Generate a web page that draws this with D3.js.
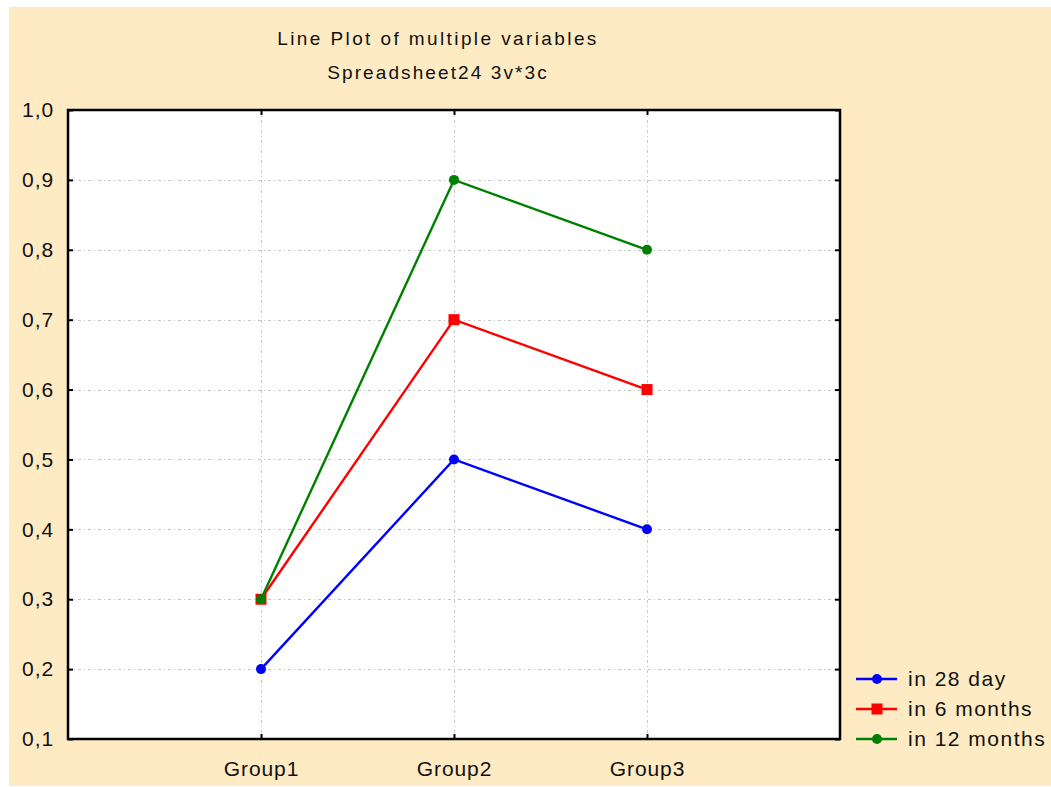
<!DOCTYPE html>
<html>
<head>
<meta charset="utf-8">
<script src="https://cdn.jsdelivr.net/npm/d3@7"></script>
<style>
  html, body { margin: 0; padding: 0; background: #ffffff; }
  svg { display: block; }
  text { font-family: "Liberation Sans", Arial, sans-serif; fill: #111; }
</style>
</head>
<body>
<svg id="chart" width="1051" height="787"></svg>
<script>
// Categories, series and tick labels
const groups = ["Group1", "Group2", "Group3"];
const seriesNames = ["in 28 day", "in 6 months", "in 12 months"];
const in28Day = [0.2, 0.5, 0.4];
const in6Months = [0.3, 0.7, 0.6];
const in12Months = [0.3, 0.9, 0.8];
const yTicks = [0.1, 0.2, 0.3, 0.4, 0.5, 0.6, 0.7, 0.8, 0.9, 1.0];
const titleLines = ["Line Plot of multiple variables", "Spreadsheet24 3v*3c"];

const series = [
  { name: seriesNames[0], values: in28Day, color: "#0000ff", marker: "circle" },
  { name: seriesNames[1], values: in6Months, color: "#ff0000", marker: "square" },
  { name: seriesNames[2], values: in12Months, color: "#008000", marker: "circle" }
];

const svg = d3.select("#chart");
const W = 1051, H = 787;
const plot = { left: 68, right: 840, top: 110, bottom: 739 };

// Panel background
svg.append("rect").attr("x", 9).attr("y", 7).attr("width", W - 9).attr("height", H - 8)
  .attr("fill", "#feebc4");

// Scales
const x = d3.scalePoint().domain(groups).range([plot.left, plot.right]).padding(1);
const y = d3.scaleLinear().domain([0.1, 1.0]).range([plot.bottom, plot.top]);

// Plot area
svg.append("rect")
  .attr("x", plot.left).attr("y", plot.top)
  .attr("width", plot.right - plot.left).attr("height", plot.bottom - plot.top)
  .attr("fill", "#ffffff");

// Grid lines (dash-dot)
const grid = svg.append("g").attr("stroke", "#c4c4c4").attr("stroke-width", 1)
  .attr("stroke-dasharray", "3,3,1,3");
grid.selectAll("line.h").data(yTicks.filter(t => t > 0.1 && t < 1.0)).join("line")
  .attr("x1", plot.left).attr("x2", plot.right)
  .attr("y1", d => Math.round(y(d)) + 0.5).attr("y2", d => Math.round(y(d)) + 0.5);
grid.selectAll("line.v").data(groups).join("line")
  .attr("y1", plot.top).attr("y2", plot.bottom)
  .attr("x1", d => Math.round(x(d)) + 0.5).attr("x2", d => Math.round(x(d)) + 0.5);

// Axes: ticks point inward on all four sides
const fmt = d => d3.format(".1f")(d).replace(".", ",");
const axisLeft = d3.axisLeft(y).tickValues(yTicks).tickSize(-5).tickPadding(14).tickFormat(fmt);
const axisRight = d3.axisRight(y).tickValues(yTicks).tickSize(-5).tickFormat("");
const axisBottom = d3.axisBottom(x).tickSize(-5).tickPadding(22);
const axisTop = d3.axisTop(x).tickSize(-5).tickFormat("");

function styleAxis(g) {
  g.select(".domain").remove();
  g.selectAll(".tick line").attr("stroke", "#000").attr("stroke-width", 2);
  g.selectAll(".tick text").attr("font-size", 21).attr("letter-spacing", 0.9)
    .attr("font-family", "'Liberation Sans', Arial, sans-serif").attr("fill", "#111");
}
svg.append("g").attr("transform", `translate(${plot.left},0)`).call(axisLeft).call(styleAxis);
svg.append("g").attr("transform", `translate(${plot.right},0)`).call(axisRight).call(styleAxis);
svg.append("g").attr("transform", `translate(0,${plot.bottom})`).call(axisBottom).call(styleAxis);
svg.append("g").attr("transform", `translate(0,${plot.top})`).call(axisTop).call(styleAxis);

// Frame
svg.append("rect")
  .attr("x", plot.left).attr("y", plot.top)
  .attr("width", plot.right - plot.left).attr("height", plot.bottom - plot.top)
  .attr("fill", "none").attr("stroke", "#000").attr("stroke-width", 2.5);

// Lines and markers
const line = d3.line().x((d, i) => x(groups[i])).y(d => y(d));
function drawMarker(g, s, cx, cy) {
  if (s.marker === "square") {
    g.append("rect").attr("x", cx - 5.5).attr("y", cy - 5.5).attr("width", 11).attr("height", 11)
      .attr("fill", s.color);
  } else {
    g.append("circle").attr("cx", cx).attr("cy", cy).attr("r", 5).attr("fill", s.color);
  }
}
series.forEach(s => {
  const g = svg.append("g");
  g.append("path").datum(s.values).attr("d", line)
    .attr("fill", "none").attr("stroke", s.color).attr("stroke-width", 2.4);
  s.values.forEach((v, i) => drawMarker(g, s, x(groups[i]), y(v)));
});

// Title
svg.append("g").selectAll("text").data(titleLines).join("text")
  .attr("x", 438).attr("y", (d, i) => 45 + i * 34)
  .attr("text-anchor", "middle").attr("font-size", 19)
  .attr("letter-spacing", (d, i) => i === 0 ? 2.4 : 2.1)
  .text(d => d);

// Legend
const legend = svg.append("g");
series.forEach((s, i) => {
  const ly = 679 + i * 30;
  const g = legend.append("g");
  g.append("line").attr("x1", 856).attr("x2", 897).attr("y1", ly).attr("y2", ly)
    .attr("stroke", s.color).attr("stroke-width", 2.4);
  drawMarker(g, s, 877, ly);
  g.append("text").attr("x", 908).attr("y", ly + 7).attr("font-size", 21)
    .attr("letter-spacing", 1.5).text(s.name);
});
</script>
</body>
</html>
